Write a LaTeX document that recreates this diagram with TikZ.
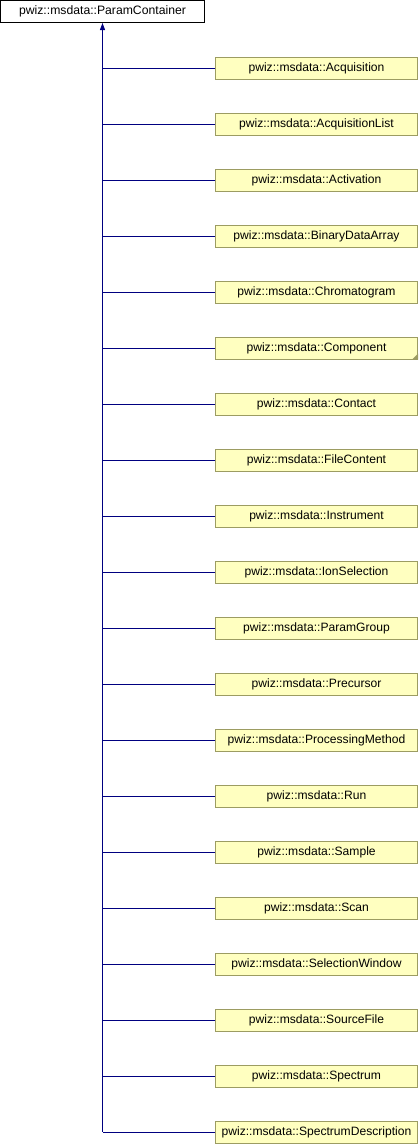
\documentclass[tikz,border=0pt]{standalone}
\usepackage{fontspec}
\setmainfont{Liberation Sans}
\usetikzlibrary{arrows.meta}
\definecolor{boxfill}{HTML}{FFFFC0}
\definecolor{boxline}{HTML}{9C9C62}
\definecolor{edgeblue}{HTML}{000080}
\tikzset{
  basebox/.style={draw=black, fill=white, line width=1pt, inner sep=0pt,
    minimum width=204pt, minimum height=22pt, font=\fontsize{12.2}{14}\selectfont},
  classbox/.style={draw=boxline, fill=boxfill, line width=1pt, inner sep=0pt,
    minimum width=202pt, minimum height=22pt, font=\fontsize{12.1}{14}\selectfont},
  inherit/.style={draw=edgeblue, line width=1pt},
}

\begin{document}
\begin{tikzpicture}[x=1pt,y=-1pt]
  \useasboundingbox (0,0) rectangle (420,1144);
  %%%%% base class %%%%%
  \node[basebox] (base) at (102.5,11.5) {pwiz::msdata::ParamContainer};
  %%%%% derived classes %%%%%
  \foreach \cls [count=\i from 0] in {Acquisition,AcquisitionList,Activation,
      BinaryDataArray,Chromatogram,Component,Contact,FileContent,Instrument,
      IonSelection,ParamGroup,Precursor,ProcessingMethod,Run,Sample,Scan,
      SelectionWindow,SourceFile,Spectrum,SpectrumDescription} {
    \node[classbox] (c\i) at (316.5, 68+56*\i) {pwiz::msdata::\cls};
    \draw[inherit] (c\i.west) -- (base.south |- c\i.west);
  }
  % more children not shown
  \fill[boxline] (c5.south east) -- ++(-6,0) -- ++(6,-6) -- cycle;
  %%%%% trunk %%%%%
  \draw[inherit, -{Triangle[length=7pt,width=5pt]}] (base.south |- c19.west) -- (base.south);
\end{tikzpicture}
\end{document}
